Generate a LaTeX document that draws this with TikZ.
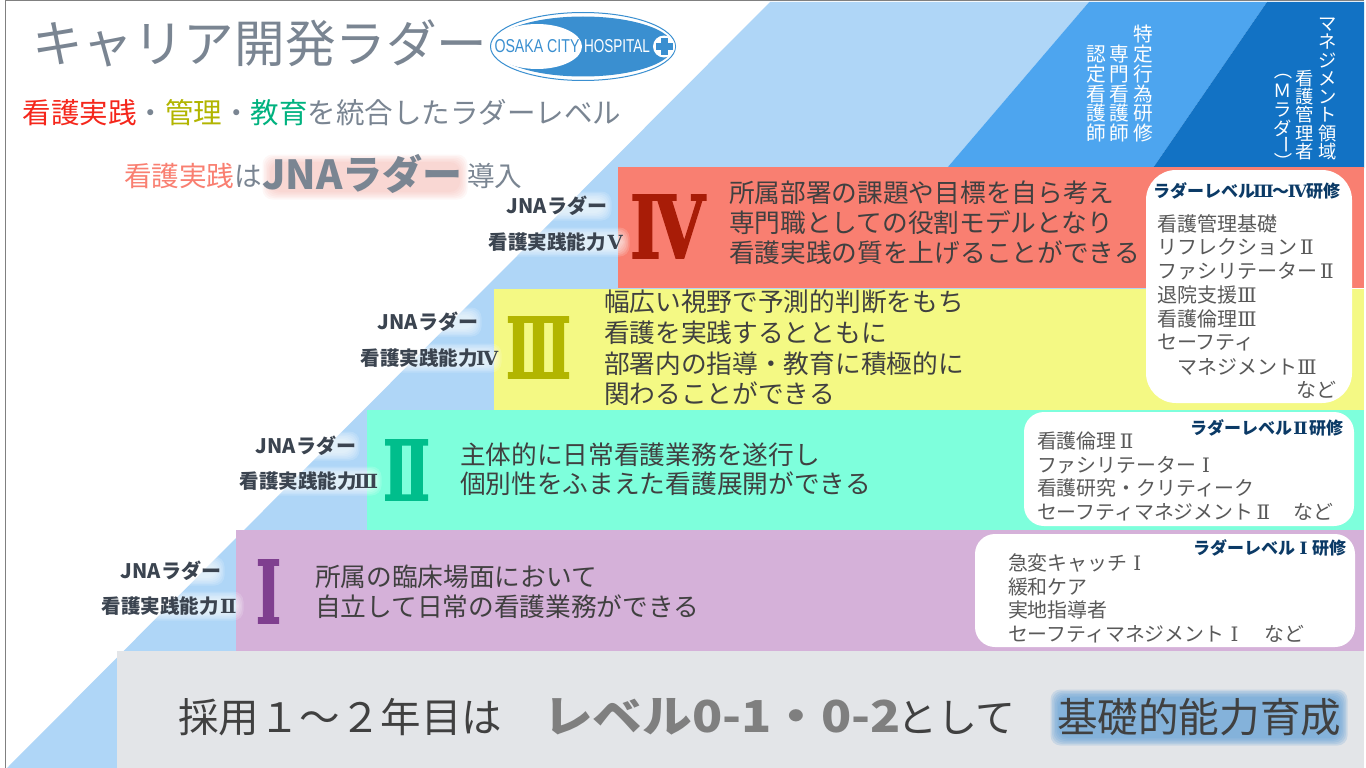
\documentclass[tikz,border=0pt]{standalone}
\usepackage{fontspec}
\usepackage{graphicx}
\setmainfont{Noto Sans CJK JP}
\newfontfamily\logofont{Liberation Sans}
\newfontfamily\numfont{DejaVu Serif}
\newfontfamily\bignum[FakeBold=2]{DejaVu Serif Bold}
\newcommand{\RN}[1]{\makebox[1em]{\numfont #1}}
\definecolor{ltblue}{HTML}{AFD6F7}
\definecolor{mdblue}{HTML}{4DA5EF}
\definecolor{dkblue}{HTML}{1272C4}
\definecolor{bandiv}{HTML}{F97F71}
\definecolor{bandiii}{HTML}{F4F984}
\definecolor{bandii}{HTML}{7EFFDC}
\definecolor{bandi}{HTML}{D5B1D9}
\definecolor{bandzero}{HTML}{E3E5E8}
\definecolor{numiv}{HTML}{A81C07}
\definecolor{numiii}{HTML}{B2B500}
\definecolor{numii}{HTML}{00BE8C}
\definecolor{numi}{HTML}{7F3F8F}
\definecolor{slate}{HTML}{7A8592}
\definecolor{bodytxt}{HTML}{404040}
\definecolor{listtxt}{HTML}{595959}
\definecolor{headtxt}{HTML}{0B3A66}
\definecolor{sidetxt}{HTML}{3B4450}
\definecolor{logoblue}{HTML}{3A8FD0}
\definecolor{redtxt}{HTML}{F5261B}
\definecolor{greentxt}{HTML}{00B27F}
\definecolor{pinktxt}{HTML}{F97F71}
\definecolor{boldgrey}{HTML}{7F7F7F}
\definecolor{glowblue}{HTML}{6CA5D8}
\definecolor{glowpink}{HTML}{F9A8A0}
\tikzset{
  band/.style={draw=none},
  panel/.style={fill=white,draw=none,rounded corners=#1},
  lbl/.style={anchor=base west,inner sep=0pt,outer sep=0pt},
  lblr/.style={anchor=base east,inner sep=0pt,outer sep=0pt},
  lblc/.style={anchor=base,inner sep=0pt,outer sep=0pt},
  vert/.style={anchor=south,inner sep=0pt,outer sep=0pt,align=center,text=white},
  vglyph/.style={inner sep=0pt,outer sep=0pt,text=white,font=\fontsize{18.3pt}{18.3pt}\selectfont},
}
% name, x, y-centre, size, colour, text
\newcommand{\putL}[6]{\pgfmathsetmacro{\yb}{#3+0.36*#4}\node[lbl,text=#5,font=\fontsize{#4pt}{#4pt}\selectfont] (#1) at (#2,\yb) {#6};}
\newcommand{\putR}[6]{\pgfmathsetmacro{\yb}{#3+0.36*#4}\node[lblr,text=#5,font=\fontsize{#4pt}{#4pt}\selectfont] (#1) at (#2,\yb) {#6};}
\newcommand{\putC}[6]{\pgfmathsetmacro{\yb}{#3+0.36*#4}\node[lblc,text=#5,font=\fontsize{#4pt}{#4pt}\selectfont] (#1) at (#2,\yb) {#6};}
% soft halo: x1,y1,x2,y2,colour,opacity
\newcommand{\halo}[6]{\foreach \gr in {0,1.5,...,7.5}{\fill[#5,fill opacity=#6,rounded corners=10pt] (#1-\gr,#2-\gr) rectangle (#3+\gr,#4+\gr);}}
\begin{document}
\begin{tikzpicture}[x=1pt,y=-1pt]
\useasboundingbox (0,0) rectangle (1366,768);
\fill[white] (0,0) rectangle (1366,768);
% frame
\draw[gray,line width=1pt] (5.5,768) -- (5.5,1) -- (1364,1);
% diagonal bands
\fill[ltblue] (7,768) -- (770,2) -- (1089,2) -- (947,168) -- (947,768) -- cycle;
\fill[mdblue] (1089,2) -- (1267,2) -- (1153,168) -- (947,168) -- cycle;
\fill[dkblue] (1267,2) -- (1364,2) -- (1364,168) -- (1153,168) -- cycle;
\fill[ltblue] (618,287) rectangle (1146,290);
% level bands
\fill[band,bandiv] (618,167) rectangle (1364,288);
\fill[band,bandiii] (494,289) rectangle (1364,410);
\fill[band,bandii] (367,410) rectangle (1364,530);
\fill[band,bandi] (236,530) rectangle (1364,651);
\fill[band,bandzero] (117,651) rectangle (1364,768);
% panels
\fill[panel=30pt] (1146,170) rectangle (1352,403);
\fill[panel=20pt] (1024,412) rectangle (1354,526);
\fill[panel=20pt] (975,534) rectangle (1355,647);
% logo
\draw[logoblue,line width=1pt] (583,46.5) ellipse [x radius=92.5,y radius=34];
\fill[logoblue] (583,46.5) ellipse [x radius=90,y radius=30];
\fill[white] (537,46.5) ellipse [x radius=45,y radius=22.5];
\fill[white] (664,46.5) circle [radius=11];
\fill[logoblue] (660.5,38) rectangle (667.5,55);
\fill[logoblue] (655.5,43) rectangle (672.5,50);
\node[inner sep=0pt,text=logoblue,font=\logofont] (logoa) at (537,46.5) {\resizebox{85pt}{13pt}{OSAKA CITY}};
\node[inner sep=0pt,text=white,font=\logofont] (logob) at (617,46.5) {\resizebox{66pt}{13pt}{HOSPITAL}};
% title block
\putL{title}{32}{44}{50.6}{slate}{キャリア開発ラダー}
\putL{subtitle}{23}{113}{28.5}{slate}{\textcolor{redtxt}{看護実践}・\textcolor{numiii}{管理}・\textcolor{greentxt}{教育}を統合したラダーレベル}
\halo{270}{162}{460}{192}{glowpink}{0.09}
\putL{jnaa}{124}{177}{27.6}{pinktxt}{看護実践\textcolor{slate}{は}}
\putL{jnab}{262}{175}{40}{slate}{\textbf{JNAラダー}}
\putL{jnac}{467}{177}{27.6}{slate}{導入}
% vertical columns
\node[vert,font=\fontsize{19.7pt}{19.7pt}\selectfont] (va) at (1143,142) {特\\定\\行\\為\\研\\修};
\node[vert,font=\fontsize{19.7pt}{19.7pt}\selectfont] (vb) at (1119,142) {専\\門\\看\\護\\師};
\node[vert,font=\fontsize{19.7pt}{19.7pt}\selectfont] (vc) at (1096,142) {認\\定\\看\\護\\師};
\node[vert,font=\fontsize{18.3pt}{18.3pt}\selectfont] (vd) at (1328,160) {マ\\ネ\\ジ\\メ\\ン\\ト\\領\\域};
\node[vert,font=\fontsize{18.3pt}{18.3pt}\selectfont] (ve) at (1305,160) {看\\護\\管\\理\\者};
\node[vglyph,rotate=-90] (vfa) at (1283,71) {（};
\node[vglyph] (vfb) at (1283,91) {Ｍ};
\node[vglyph] (vfc) at (1283,110) {ラ};
\node[vglyph] (vfd) at (1283,128) {ダ};
\node[vglyph,rotate=-90] (vfe) at (1283,145) {ー};
\node[vglyph,rotate=-90] (vff) at (1283,162) {）};
% level IV
\halo{510}{199}{604}{213}{white}{0.16}
\halo{490}{235}{622}{249}{white}{0.16}
\putC{labiva}{557}{206}{20}{sidetxt}{\textbf{JNAラダー}}
\putR{labivb}{625}{242}{19.5}{sidetxt}{\textbf{看護実践能力\RN{Ⅴ}}}
\node[inner sep=0pt,text=numiv,font=\bignum] (numIV) at (667.5,226.5) {\resizebox{75pt}{63pt}{Ⅳ}};
\putL{tiva}{729}{193}{25.7}{bodytxt}{所属部署の課題や目標を自ら考え}
\putL{tivb}{729}{223}{25.7}{bodytxt}{専門職としての役割モデルとなり}
\putL{tivc}{729}{253}{25.7}{bodytxt}{看護実践の質を上げることができる}
\putL{hiv}{1153}{191}{17}{headtxt}{\textbf{ラダーレベル\RN{Ⅲ}～\RN{Ⅳ}研修}}
\putL{liva}{1157}{224}{20}{listtxt}{看護管理基礎}
\putL{livb}{1157}{247}{20}{listtxt}{リフレクション\RN{Ⅱ}}
\putL{livc}{1157}{271}{20}{listtxt}{ファシリテーター\RN{Ⅱ}}
\putL{livd}{1157}{295}{20}{listtxt}{退院支援\RN{Ⅲ}}
\putL{live}{1157}{319}{20}{listtxt}{看護倫理\RN{Ⅲ}}
\putL{livf}{1157}{342}{20}{listtxt}{セーフティ}
\putL{livg}{1177}{367}{20}{listtxt}{マネジメント\RN{Ⅲ}}
\putL{livh}{1296}{390}{20}{listtxt}{など}
% level III
\halo{382}{315}{474}{329}{white}{0.16}
\halo{362}{351}{494}{365}{white}{0.16}
\putC{labiiia}{428}{322}{20}{sidetxt}{\textbf{JNAラダー}}
\putR{labiiib}{497}{358}{19.5}{sidetxt}{\textbf{看護実践能力\RN{Ⅳ}}}
\node[inner sep=0pt,text=numiii,font=\bignum] (numIII) at (538.5,347.5) {\resizebox{65pt}{61pt}{Ⅲ}};
\putL{tiiia}{604}{302}{25.7}{bodytxt}{幅広い視野で予測的判断をもち}
\putL{tiiib}{604}{333}{25.7}{bodytxt}{看護を実践するとともに}
\putL{tiiic}{604}{364}{25.7}{bodytxt}{部署内の指導・教育に積極的に}
\putL{tiiid}{604}{394}{25.7}{bodytxt}{関わることができる}
% level II
\halo{260}{439}{352}{453}{white}{0.16}
\halo{240}{474}{374}{488}{white}{0.16}
\putC{labiia}{306}{446}{20}{sidetxt}{\textbf{JNAラダー}}
\putR{labiib}{376}{481}{19.5}{sidetxt}{\textbf{看護実践能力\RN{Ⅲ}}}
\node[inner sep=0pt,text=numii,font=\bignum] (numII) at (406.5,470) {\resizebox{47pt}{60pt}{Ⅱ}};
\putL{tiia}{460}{455}{25.7}{bodytxt}{主体的に日常看護業務を遂行し}
\putL{tiib}{460}{484}{25.7}{bodytxt}{個別性をふまえた看護展開ができる}
\putL{hii}{1190}{428}{17}{headtxt}{\textbf{ラダーレベル\RN{Ⅱ}研修}}
\putL{lia}{1037}{441}{19.9}{listtxt}{看護倫理\RN{Ⅱ}}
\putL{lib}{1037}{465}{19.9}{listtxt}{ファシリテーター\RN{Ⅰ}}
\putL{lic}{1037}{488}{19.9}{listtxt}{看護研究・クリティーク}
\putL{lid}{1037}{512}{19.9}{listtxt}{セーフティマネジメント\RN{Ⅱ}　など}
% level I
\halo{125}{564}{217}{578}{white}{0.16}
\halo{104}{599}{236}{613}{white}{0.16}
\putC{labia}{171}{571}{20}{sidetxt}{\textbf{JNAラダー}}
\putR{labib}{238}{606}{19.5}{sidetxt}{\textbf{看護実践能力\RN{Ⅱ}}}
\node[inner sep=0pt,text=numi,font=\bignum] (numI) at (268.5,591.5) {\resizebox{25pt}{63pt}{Ⅰ}};
\putL{tia}{315}{577}{25.7}{bodytxt}{所属の臨床場面において}
\putL{tib}{315}{607}{25.7}{bodytxt}{自立して日常の看護業務ができる}
\putL{hi}{1193}{548}{17}{headtxt}{\textbf{ラダーレベル\RN{Ⅰ}研修}}
\putL{lja}{1008}{563}{19.9}{listtxt}{急変キャッチ\RN{Ⅰ}}
\putL{ljb}{1008}{587}{19.9}{listtxt}{緩和ケア}
\putL{ljc}{1008}{610}{19.9}{listtxt}{実地指導者}
\putL{ljd}{1008}{634}{19.9}{listtxt}{セーフティマネジメント\RN{Ⅰ}　など}
% level zero
\halo{1058}{697}{1340}{738}{glowblue}{0.22}
\putL{za}{178}{718}{40.5}{bodytxt}{採用１～２年目は}
\node[lbl,text=boldgrey,font=\fontsize{44pt}{44pt}\selectfont] (zb) at (543,732) {\scalebox{1.13}[1]{\textbf{レベル0-1・0-2}}};
\putL{zc}{897}{718}{40}{bodytxt}{として}
\putL{zd}{1057}{718}{40.6}{bodytxt}{基礎的能力育成}
\end{tikzpicture}
\end{document}
